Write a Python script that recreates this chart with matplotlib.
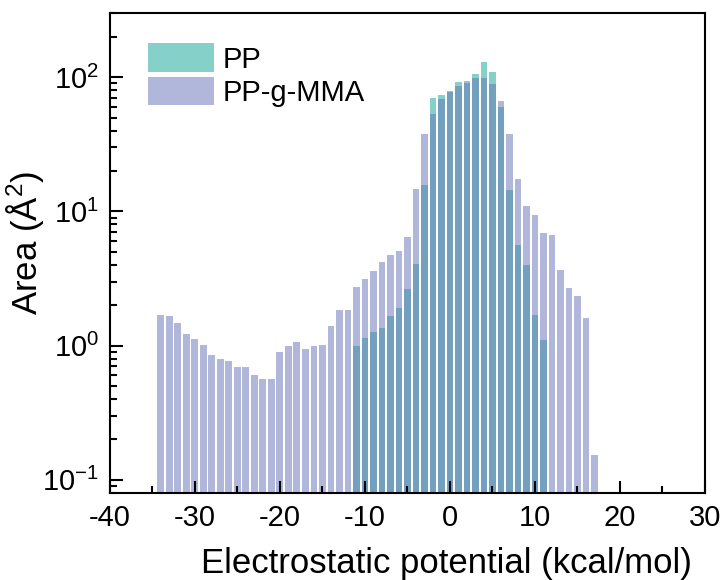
import numpy as np
import matplotlib
matplotlib.use("Agg")
import matplotlib.pyplot as plt
from matplotlib.ticker import LogLocator, MultipleLocator, NullFormatter

plt.rcParams['font.family'] = ['Liberation Sans', 'DejaVu Sans']
plt.rcParams['mathtext.fontset'] = 'custom'
plt.rcParams['mathtext.rm'] = 'Liberation Sans'
plt.rcParams['mathtext.it'] = 'Liberation Sans:italic'
plt.rcParams['mathtext.default'] = 'regular'
plt.rcParams['axes.unicode_minus'] = False

# Surface area histograms, 1 kcal/mol bins
pp_x = np.arange(-11, 12)
pp_area = [1.00, 1.14, 1.26, 1.36, 1.66, 1.91, 2.64, 4.06, 15.7, 70.0,
           73.7, 78.9, 92.0, 90.4, 105.5, 130.0, 109.0, 60.0, 14.5, 5.62,
           3.99, 1.69, 1.10]

mma_x = np.arange(-34, 18)
mma_area = [1.69, 1.66, 1.48, 1.22, 1.12, 1.01, 0.85, 0.80, 0.76, 0.69,
            0.69, 0.60, 0.56, 0.56, 0.90, 1.00, 1.07, 0.94, 1.00, 1.01,
            1.40, 1.85, 1.85, 2.74, 3.14, 3.60, 4.20, 4.73, 5.07, 6.44,
            14.7, 37.8, 53.1, 68.7, 77.5, 86.0, 93.6, 98.5, 98.5, 89.0,
            66.4, 37.8, 17.4, 11.0, 9.4, 6.9, 6.67, 3.66, 2.69, 2.34,
            1.61, 0.151]

fig = plt.figure(figsize=(7.25, 5.8), dpi=100)
ax = fig.add_axes([0.1517, 0.1505, 0.8207, 0.8265])

ax.bar(pp_x, pp_area, width=0.82, bottom=1e-3, color='#85d1c9', label='PP')
ax.bar(mma_x, mma_area, width=0.82, bottom=1e-3, color=(99/255, 113/255, 183/255),
       alpha=0.5, label='PP-g-MMA')

ax.set_yscale('log')
ax.set_xlim(-40, 30)
ax.set_ylim(0.08, 300)

ax.xaxis.set_major_locator(MultipleLocator(10))
ax.xaxis.set_minor_locator(MultipleLocator(5))
ax.yaxis.set_major_locator(LogLocator(base=10, numticks=10))
ax.yaxis.set_minor_locator(LogLocator(base=10, subs=np.arange(2, 10), numticks=10))
ax.yaxis.set_minor_formatter(NullFormatter())

ax.tick_params(which='both', direction='in', top=False, right=False,
               labelsize=21, width=1.5)
ax.tick_params(which='major', length=9, pad=8)
ax.tick_params(which='minor', length=5)
for sp in ax.spines.values():
    sp.set_linewidth(1.5)

ax.set_xlabel('Electrostatic potential (kcal/mol)', fontsize=25)
ax.set_ylabel('Area (Å$^{2}$)', fontsize=25)
ax.xaxis.set_label_coords(0.565, -0.113)
ax.yaxis.set_label_coords(-0.107, 0.52)

ax.legend(loc='upper left', bbox_to_anchor=(0.03, 0.98), frameon=False,
          fontsize=21, handlelength=2.25, handleheight=1.14,
          labelspacing=0.1, handletextpad=0.3, borderaxespad=0.3)

fig.savefig('out.png', dpi=100)
